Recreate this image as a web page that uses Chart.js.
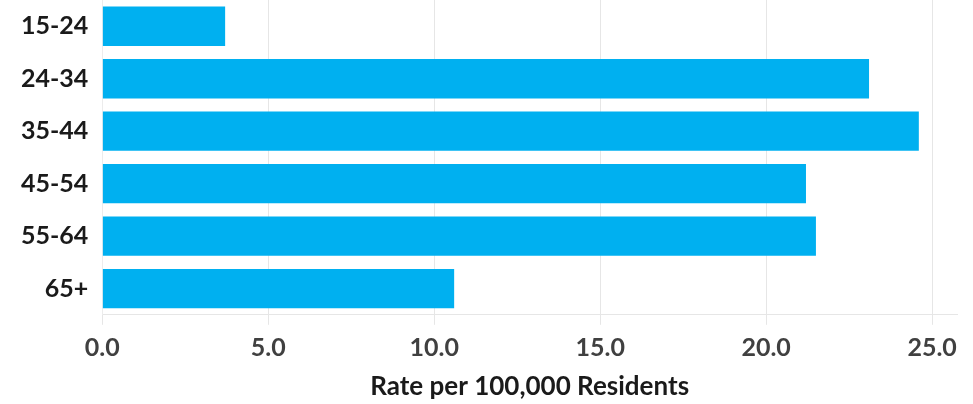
<!DOCTYPE html>
<html>
<head>
<meta charset="utf-8">
<script src="https://cdn.jsdelivr.net/npm/chart.js@4/dist/chart.umd.min.js"></script>
<style>
  html, body { margin: 0; padding: 0; background: #fff; }
  #wrap { width: 973px; height: 404px; }
</style>
</head>
<body>
<div id="wrap"><canvas id="rateChart"></canvas></div>
<script>
const ageGroups = ['15-24', '24-34', '35-44', '45-54', '55-64', '65+'];
const rates = [3.7, 23.1, 24.6, 21.2, 21.5, 10.6];
const xTicks = [0, 5, 10, 15, 20, 25];

var ctx = document.getElementById('rateChart').getContext('2d');

const rateChart = new Chart(ctx, {
    type: 'bar',
    data: {
        labels: ageGroups,
        datasets: [{
            data: rates,
            backgroundColor: '#00B0F0',
            borderWidth: 0,
            barPercentage: 0.75,
            categoryPercentage: 1.0,
        }]
    },
    options: {
        indexAxis: 'y',
        responsive: true,
        maintainAspectRatio: false,
        animation: false,
        layout: {
            padding: { top: 0, right: 16, bottom: 2, left: 7 }
        },
        plugins: {
            legend: { display: false },
            tooltip: { enabled: false }
        },
        scales: {
            x: {
                min: 0,
                max: 25.75,
                afterBuildTicks: (axis) => {
                    axis.ticks = xTicks.map(v => ({ value: v }));
                },
                ticks: {
                    callback: (v) => Number(v).toFixed(1),
                    color: '#404040',
                    font: { family: 'Lato', size: 25, weight: 'bold' },
                    padding: 8,
                    maxRotation: 0,
                },
                grid: {
                    color: '#e6e6e6',
                    lineWidth: 1,
                    tickLength: 10,
                },
                border: { display: true, color: '#e6e6e6' },
                title: {
                    display: true,
                    text: 'Rate per 100,000 Residents',
                    color: '#1a1a1a',
                    font: { family: 'Lato', size: 26, weight: 'bold' },
                    padding: { top: 0, bottom: 0 }
                }
            },
            y: {
                afterFit: (scale) => {
                    // no extra room above/below for the category labels
                    scale.paddingTop = 0;
                    scale.paddingBottom = 0;
                },
                ticks: {
                    color: '#1a1a1a',
                    font: { family: 'Lato', size: 25, weight: 'bold' },
                    padding: 14,
                },
                grid: { display: false, drawTicks: false },
                border: { display: true, color: '#ececec' }
            }
        }
    }
});
</script>
</body>
</html>
